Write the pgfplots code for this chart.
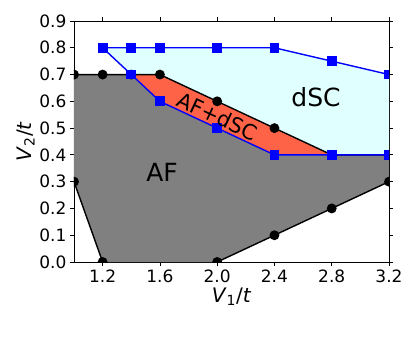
\documentclass[border=0pt]{standalone}
\usepackage{fontspec}
\setmainfont{DejaVu Sans}
\usepackage{pgfplots}
\pgfplotsset{compat=1.18}
\definecolor{mplgray}{RGB}{128,128,128}
\definecolor{tomato}{RGB}{255,99,71}
\definecolor{lcyan}{RGB}{224,255,255}
\begin{document}
\begin{tikzpicture}
\begin{axis}[
    name=ax,
    scale only axis,
    width=315pt, height=241pt,
    xmin=1.0, xmax=3.2, ymin=0, ymax=0.9,
    xtick={1.2,1.6,2.0,2.4,2.8,3.2},
    ytick={0,0.1,0.2,0.3,0.4,0.5,0.6,0.7,0.8,0.9},
    /pgf/number format/assume math mode=true,
    /pgf/number format/.cd, fixed, fixed zerofill, precision=1, /pgfplots/.cd,
    tick align=outside,
    major tick length=4pt,
    tick style={black, line width=0.8pt},
    axis line style={black, line width=0.8pt},
    tick label style={font=\fontsize{17}{19}\selectfont},
    label style={font=\fontsize{20}{22}\selectfont},
    xlabel={\textit{V}\textsubscript{1}/\textit{t}},
    ylabel={\textit{V}\textsubscript{2}/\textit{t}},
    xlabel style={yshift=1pt},
    ylabel style={yshift=-2pt},
    clip marker paths=true,
]

% AF region
\addplot[fill=mplgray, draw=none] coordinates {
    (1.0,0.7) (1.4,0.7) (1.6,0.6) (2.0,0.5) (2.4,0.4) (3.2,0.4)
    (3.2,0.3) (2.8,0.2) (2.4,0.1) (2.0,0.0) (1.2,0.0) (1.0,0.3)
} -- cycle;

% dSC region
\addplot[fill=lcyan, draw=none] coordinates {
    (1.2,0.8) (1.4,0.8) (1.6,0.8) (2.0,0.8) (2.4,0.8) (2.8,0.75) (3.2,0.7)
    (3.2,0.4) (2.8,0.4) (2.4,0.4) (2.0,0.5) (1.6,0.6) (1.4,0.7)
} -- cycle;

% AF+dSC region
\addplot[fill=tomato, draw=none] coordinates {
    (1.4,0.7) (1.6,0.7) (2.0,0.6) (2.4,0.5) (2.8,0.4)
    (2.4,0.4) (2.0,0.5) (1.6,0.6)
} -- cycle;

% AF boundaries
\addplot[black, line width=1.4pt, mark=*, mark size=4.2pt] coordinates {
    (1.0,0.7) (1.2,0.7) (1.4,0.7) (1.6,0.7) (2.0,0.6) (2.4,0.5) (2.8,0.4) (3.2,0.4)
};
\addplot[black, line width=1.4pt, mark=*, mark size=4.2pt] coordinates {
    (1.0,0.3) (1.2,0.0)
};
\addplot[black, line width=1.4pt, mark=*, mark size=4.2pt] coordinates {
    (2.0,0.0) (2.4,0.1) (2.8,0.2) (3.2,0.3)
};

% dSC boundaries
\addplot[blue, line width=1.4pt, mark=square*, mark size=4.2pt] coordinates {
    (1.2,0.8) (1.4,0.8) (1.6,0.8) (2.0,0.8) (2.4,0.8) (2.8,0.75) (3.2,0.7)
};
\addplot[blue, line width=1.4pt, mark=square*, mark size=4.2pt] coordinates {
    (1.2,0.8) (1.4,0.7) (1.6,0.6) (2.0,0.5) (2.4,0.4) (2.8,0.4) (3.2,0.4)
};

\node[font=\fontsize{25}{27}\selectfont] at (axis cs:1.615,0.335) {AF};
\node[font=\fontsize{25}{27}\selectfont] at (axis cs:2.69,0.615) {dSC};
\node[font=\fontsize{21}{23}\selectfont, rotate=-25] at (axis cs:2.0,0.545) {AF+dSC};
\end{axis}
\pgfresetboundingbox
\path ([xshift=-74pt,yshift=-76pt]ax.south west) rectangle ([xshift=26pt,yshift=21pt]ax.north east);
\end{tikzpicture}
\end{document}
